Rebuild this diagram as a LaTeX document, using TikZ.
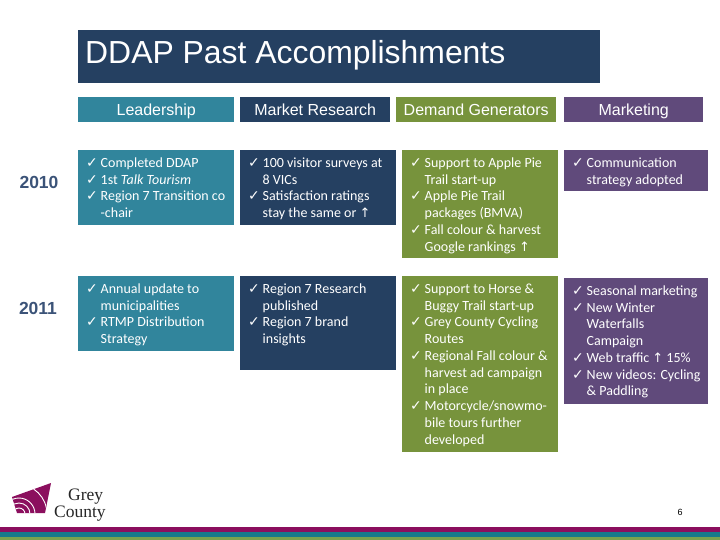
\documentclass[tikz,border=0pt]{standalone}
\usepackage{fontspec}
\setmainfont{Carlito}
\newfontfamily\headfont{Liberation Sans}
\newfontfamily\logofont{Liberation Serif}
\newfontfamily\symfont{DejaVu Sans}
\definecolor{tealbox}{HTML}{31859C}
\definecolor{navybox}{HTML}{254061}
\definecolor{greenbox}{HTML}{77933C}
\definecolor{purplebox}{HTML}{604A7B}
\definecolor{yearblue}{HTML}{3B5378}
\definecolor{stripeplum}{HTML}{8B0F5E}
\definecolor{stripeteal}{HTML}{167A8B}
\definecolor{stripegreen}{HTML}{7AA24E}
\newcommand{\ck}{\makebox[14.5pt][l]{\symfont\fontsize{14}{16.75}\selectfont ✓}}
\newcommand{\cn}{\hspace*{14.5pt}}
\newcommand{\up}{{\symfont\fontsize{13}{16.75}\selectfont ↑}}
\tikzset{
	panel/.style = {shape=rectangle, inner sep=0pt, anchor=north west},
	bullets/.style = {anchor=north west, inner xsep=8pt, inner ysep=7.5pt, align=left,
		text=white, font=\fontsize{14}{16.75}\selectfont},
	headtext/.style = {text=white, inner sep=0pt, text height=11.5pt, text depth=3.5pt, yshift=-1.5pt,
		font=\headfont\fontsize{16}{18}\selectfont},
	yeartext/.style = {text=yearblue, inner sep=0pt, font=\headfont\bfseries\fontsize{17.5}{19}\selectfont}
}
\begin{document}
\begin{tikzpicture}[x=1pt, y=-1pt]
	\useasboundingbox (0,0) rectangle (720,540);
	% boxes: name/left/top/width/height/colour
	\foreach \name/\x/\y/\w/\h/\col in {
		title/78/30/522/53/navybox,
		headlead/78/97/156/25/tealbox, headmarket/240/97/150/25/navybox,
		headdemand/396/97/160/25/greenbox, headmarketing/564/97/139/25/purplebox,
		lead10/78/150/156/75/tealbox, market10/240/150/156/75/navybox,
		demand10/402/150/156/108/greenbox, marketing10/564/150/144/41/purplebox,
		lead11/78/276/156/75/tealbox, market11/240/276/156/94/navybox,
		demand11/402/276/156/176/greenbox, marketing11/564/278/144/126/purplebox}
		\node[panel, fill=\col, minimum width=\w pt, minimum height=\h pt] (\name) at (\x,\y) {};

	\node[anchor=west, text=white, inner sep=0pt, font=\headfont\fontsize{31.9}{34}\selectfont] (titletext) at (85,55) {DDAP Past Accomplishments};
	\node[headtext] (leadtext) at (headlead.center) {Leadership};
	\node[headtext] (markettext) at (headmarket.center) {Market Research};
	\node[headtext] (demandtext) at (headdemand.center) {Demand Generators};
	\node[headtext] (marketingtext) at (headmarketing.center) {Marketing};

	\node[yeartext] (year10) at (39,182) {2010};
	\node[yeartext] (year11) at (38,308) {2011};

	\node[bullets] (lead10text) at (lead10.north west) {\ck Completed DDAP\\\ck 1st \emph{Talk Tourism}\\\ck Region 7 Transition co\\\cn -chair};
	\node[bullets] (market10text) at (market10.north west) {\ck 100 visitor surveys at\\\cn 8 VICs\\\ck Satisfaction ratings\\\cn stay the same or \up};
	\node[bullets] (demand10text) at (demand10.north west) {\ck Support to Apple Pie\\\cn Trail start-up\\\ck Apple Pie Trail\\\cn packages (BMVA)\\\ck Fall colour \& harvest\\\cn Google rankings \up};
	\node[bullets] (marketing10text) at (marketing10.north west) {\ck Communication\\\cn strategy adopted};

	\node[bullets] (lead11text) at (lead11.north west) {\ck Annual update to\\\cn municipalities\\\ck RTMP Distribution\\\cn Strategy};
	\node[bullets] (market11text) at (market11.north west) {\ck Region 7 Research\\\cn published\\\ck Region 7 brand\\\cn insights};
	\node[bullets] (demand11text) at (demand11.north west) {\ck Support to Horse \&\\\cn Buggy Trail start-up\\\ck Grey County Cycling\\\cn Routes\\\ck Regional Fall colour \&\\\cn harvest ad campaign\\\cn in place\\\ck Motorcycle/snowmo-\\\cn bile tours further\\\cn developed};
	\node[bullets] (marketing11text) at (marketing11.north west) {\ck Seasonal marketing\\\ck New Winter\\\cn Waterfalls\\\cn Campaign\\\ck Web traffic \up{} 15\%\\\ck New videos: Cycling\\\cn \& Paddling};

	% logo
	\fill[stripeplum] (12,497) -- (51,483) -- (45,513) -- (17,513) -- cycle;
	\begin{scope}
		\clip (12,497) -- (51,483) -- (45,513) -- (17,513) -- cycle;
		\foreach \r in {6,11,16}
			\draw[white, line width=0.9pt] (19,514) circle (\r);
		\draw[white, line width=0.9pt] (17,514) circle (30);
	\end{scope}
	\node[anchor=west, inner sep=0pt, align=left, text=black!85, font=\logofont\fontsize{17.5}{14}\selectfont] (logotext) at (54,505) {\hspace*{14pt}Grey\\County};

	\node[inner sep=0pt, font=\headfont\fontsize{9}{10}\selectfont] (pagenum) at (680,512) {6};

	% stripes
	\fill[stripeplum] (0,527) rectangle (720,532);
	\fill[stripeteal] (0,532) rectangle (720,537);
	\fill[stripegreen] (0,537) rectangle (720,540);
\end{tikzpicture}
\end{document}
